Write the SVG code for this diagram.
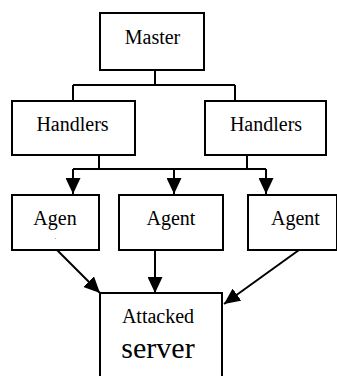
<svg xmlns="http://www.w3.org/2000/svg" width="337" height="376" viewBox="0 0 337 376">
<style>
.box{fill:#fff;stroke:#000;stroke-width:2}
.t{font-family:'Liberation Serif','Times New Roman',serif;font-size:20px;fill:#000;text-anchor:middle}
.big{font-size:30px}
.c{fill:none;stroke:#000;stroke-width:2}
</style>
<defs>
<marker id="ah" markerUnits="userSpaceOnUse" markerWidth="16" markerHeight="15" refX="16" refY="7.5" orient="auto" viewBox="0 0 16 15">
<path d="M0,0 L16,7.5 L0,15 z" fill="#000"/>
</marker>
</defs>
<rect width="337" height="376" fill="#fff"/>
<g id="connectors">
<path class="c" d="M155,70 V85 M73,85 H235 M73,85 V101 M235,85 V101"/>
<path class="c" d="M99,155 V169 M247,155 V169 M73,169 H266"/>
<line class="c" x1="73" y1="169" x2="73" y2="194" marker-end="url(#ah)"/>
<line class="c" x1="174" y1="169" x2="174" y2="194" marker-end="url(#ah)"/>
<line class="c" x1="266" y1="169" x2="266" y2="194" marker-end="url(#ah)"/>
<line class="c" x1="57" y1="250" x2="100" y2="293" marker-end="url(#ah)"/>
<line class="c" x1="155" y1="250" x2="155" y2="293" marker-end="url(#ah)"/>
<line class="c" x1="299" y1="250" x2="224" y2="304" marker-end="url(#ah)"/>
</g>
<g id="master"><rect class="box" x="100" y="13" width="104" height="57"/><text class="t" x="152.5" y="44">Master</text></g>
<g id="handlers1"><rect class="box" x="12" y="101" width="123" height="54"/><text class="t" x="72.5" y="131">Handlers</text></g>
<g id="handlers2"><rect class="box" x="205" y="101" width="121" height="54"/><text class="t" x="266" y="131">Handlers</text></g>
<g id="agent1"><rect class="box" x="12" y="195" width="87" height="55"/><text class="t" x="55" y="225">Agen</text><rect x="55" y="238" width="1" height="1" fill="#aaa"/></g>
<g id="agent2"><rect class="box" x="119" y="195" width="104" height="55"/><text class="t" x="171" y="225">Agent</text></g>
<g id="agent3"><rect class="box" x="248" y="195" width="89" height="55"/><text class="t" x="295.5" y="225">Agent</text></g>
<g id="server"><rect class="box" x="100" y="293" width="122" height="100"/><text class="t" x="158" y="323">Attacked</text><text class="t big" x="158" y="358">server</text></g>
</svg>
